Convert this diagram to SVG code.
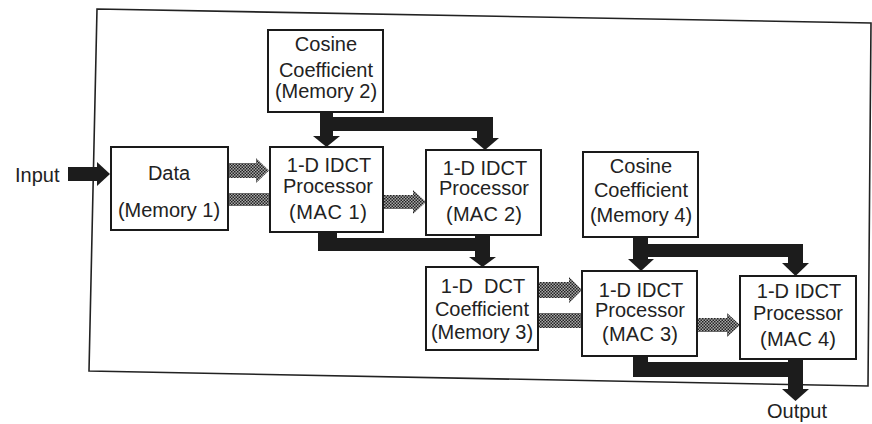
<svg xmlns="http://www.w3.org/2000/svg" width="872" height="424" viewBox="0 0 872 424">
<defs>
<pattern id="hatch" width="3" height="3" patternUnits="userSpaceOnUse">
<rect width="3" height="3" fill="#a8a8a8"/>
<rect width="1.5" height="1.5" fill="#222"/>
<rect x="1.5" y="1.5" width="1.5" height="1.5" fill="#222"/>
</pattern>
</defs>
<style>
.box{fill:#fff;stroke:#1a1a1a;stroke-width:2}
.t{font-family:"Liberation Sans",Arial,sans-serif;font-size:20px;fill:#222;text-anchor:middle}
.lbl{font-family:"Liberation Sans",Arial,sans-serif;font-size:20px;fill:#222}
.bus{fill:#1c1c1c}
.h{fill:url(#hatch)}
.frame{fill:none;stroke:#222;stroke-width:1.6}
</style>
<rect width="872" height="424" fill="#fff"/>
<polygon class="frame" points="97,9 871,23 868,386 89,371"/>

<g id="connectors">
<!-- Input -->
<rect class="bus" x="68" y="167" width="30" height="14"/>
<polygon class="bus" points="97,162 110,174 97,186"/>
<!-- Memory2 to MAC1 and MAC2 -->
<rect class="bus" x="320" y="112" width="13" height="25"/>
<polygon class="bus" points="313,136 340,136 326.5,147"/>
<rect class="bus" x="320" y="117" width="173" height="14"/>
<rect class="bus" x="477" y="117" width="16" height="22"/>
<polygon class="bus" points="471,138 499,138 485,150"/>
<!-- MAC1 / MAC2 to Memory3 -->
<rect class="bus" x="318" y="232" width="19" height="19"/>
<rect class="bus" x="318" y="238" width="170" height="13"/>
<rect class="bus" x="475" y="235" width="15" height="23"/>
<polygon class="bus" points="469,257 496,257 482.5,267"/>
<!-- Memory4 to MAC3 and MAC4 -->
<rect class="bus" x="633" y="237" width="15" height="23"/>
<polygon class="bus" points="628,259 654,259 641,271"/>
<rect class="bus" x="633" y="244" width="170" height="13"/>
<rect class="bus" x="788" y="244" width="15" height="20"/>
<polygon class="bus" points="782,263 809,263 795.5,276"/>
<!-- MAC3 / MAC4 to Output -->
<rect class="bus" x="633" y="356" width="15" height="21"/>
<rect class="bus" x="633" y="362" width="170" height="15"/>
<rect class="bus" x="788" y="359" width="15" height="31"/>
<polygon class="bus" points="782,389 809,389 795.5,401"/>
<!-- hatched data paths -->
<rect class="h" x="228" y="163" width="29" height="15"/>
<polygon class="h" points="256,158 269,170.5 256,183"/>
<rect class="h" x="228" y="193" width="42" height="13"/>
<rect class="h" x="383" y="195" width="31" height="14"/>
<polygon class="h" points="413,190 426,202 413,214"/>
<rect class="h" x="538" y="282" width="32" height="16"/>
<polygon class="h" points="569,277 582,290 569,303"/>
<rect class="h" x="538" y="313" width="44" height="15"/>
<rect class="h" x="697" y="318" width="31" height="14"/>
<polygon class="h" points="727,313 740,325 727,337"/>
</g>

<g id="input-label"><text class="lbl" x="15" y="182">Input</text></g>
<g id="output-label"><text class="lbl" x="797" y="418" text-anchor="middle">Output</text></g>

<g id="memory2">
<rect class="box" x="268" y="30" width="115" height="82"/>
<text class="t" x="326" y="51">Cosine</text>
<text class="t" x="326" y="77">Coefficient</text>
<text class="t" x="326" y="98">(Memory 2)</text>
</g>

<g id="memory1">
<rect class="box" x="111" y="147" width="117" height="83"/>
<text class="t" x="169" y="180">Data</text>
<text class="t" x="169" y="217">(Memory 1)</text>
</g>

<g id="mac1">
<rect class="box" x="270" y="147" width="113" height="85"/>
<text class="t" x="329" y="172">1-D IDCT</text>
<text class="t" x="328" y="193">Processor</text>
<text class="t" x="328" y="219" textLength="78" lengthAdjust="spacing">(MAC 1)</text>
</g>

<g id="mac2">
<rect class="box" x="426" y="150" width="115" height="85"/>
<text class="t" x="485" y="175">1-D IDCT</text>
<text class="t" x="484" y="195">Processor</text>
<text class="t" x="484" y="221" textLength="76" lengthAdjust="spacing">(MAC 2)</text>
</g>

<g id="memory4">
<rect class="box" x="583" y="152" width="115" height="85"/>
<text class="t" x="641" y="173">Cosine</text>
<text class="t" x="641" y="197">Coefficient</text>
<text class="t" x="641" y="222">(Memory 4)</text>
</g>

<g id="memory3">
<rect class="box" x="426" y="267" width="112" height="83"/>
<text class="t" x="483" y="293" xml:space="preserve">1-D  DCT</text>
<text class="t" x="482" y="316">Coefficient</text>
<text class="t" x="482" y="339">(Memory 3)</text>
</g>

<g id="mac3">
<rect class="box" x="582" y="271" width="115" height="85"/>
<text class="t" x="641" y="297">1-D IDCT</text>
<text class="t" x="640" y="317">Processor</text>
<text class="t" x="640" y="341" textLength="76" lengthAdjust="spacing">(MAC 3)</text>
</g>

<g id="mac4">
<rect class="box" x="740" y="276" width="116" height="83"/>
<text class="t" x="799" y="298">1-D IDCT</text>
<text class="t" x="798" y="320">Processor</text>
<text class="t" x="798" y="346" textLength="76" lengthAdjust="spacing">(MAC 4)</text>
</g>
</svg>
